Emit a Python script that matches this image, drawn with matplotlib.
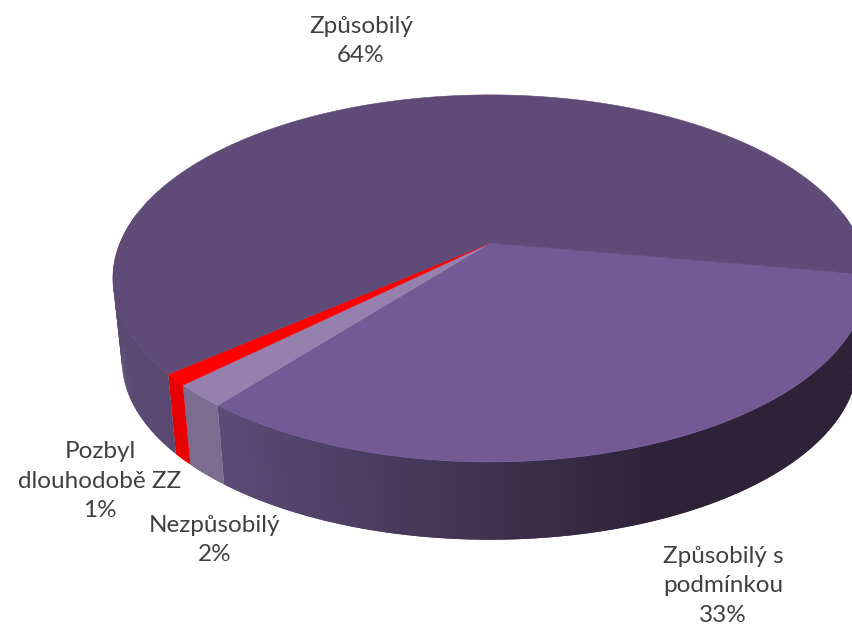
import numpy as np
import matplotlib
matplotlib.use("Agg")
import matplotlib.pyplot as plt
from matplotlib.colors import to_rgb
from matplotlib.patches import Polygon

# clockwise on screen, beginning at the right hand edge
labels = ["Způsobilý s\npodmínkou\n33%", "Nezpůsobilý\n2%", "Pozbyl\ndlouhodobě ZZ\n1%", "Způsobilý\n64%"]
values = [33, 2, 1, 64]
top_colors = ["#735a94", "#9680ad", "#ff0000", "#604a78"]
side_left = ["#5c4b76", "#7c6c90", "#e80000", "#5a4a72"]
side_right = ["#2e2238", "#7c6c90", "#e00000", "#5a4a72"]

# look of the 3d pie, in pixels
cx, cy = 490, 243
a, b, k = 370, 176.7, 0.193
drop, shrink = 83, 0.976
start = 9.9
label_xy = [(723, 586), (215, 540), (100, 481), (361, 41)]


def project(t):
    # t in degrees, clockwise on screen, perspective towards the viewer
    u = np.cos(np.radians(t))
    v = np.sin(np.radians(t))
    d = 1 / (1 - k * v)
    return cx + a * u * d, cy + b * v * d


def project_low(t):
    # same rim on the underside, a bit smaller because it is further away
    x, y = project(t)
    return cx + shrink * (x - cx), cy + drop + shrink * (y - cy)


def mix(c1, c2, f):
    c1 = np.array(to_rgb(c1))
    c2 = np.array(to_rgb(c2))
    return c1 + (c2 - c1) * f


fig = plt.figure(figsize=(8.53, 6.27), dpi=100)
ax = fig.add_axes([0, 0, 1, 1])
ax.set_xlim(0, 853)
ax.set_ylim(627, 0)
ax.axis("off")

sweeps = 360 * np.array(values) / sum(values)
edges = start + np.concatenate([[0], np.cumsum(sweeps)])

# side wall, only the part looking at us
for i in range(len(values)):
    t0 = max(edges[i], -10)
    t1 = min(edges[i + 1], 190)
    if i == 0:
        t0 = -10
    steps = np.linspace(t0, t1, int(abs(t1 - t0)) * 2 + 2)
    dt = steps[1] - steps[0]
    for s0, s1 in zip(steps[:-1], steps[1:]):
        # runs a little into the next strip so no seams show
        s2 = min(s1 + dt, t1)
        f = np.clip((project(s0)[0] - 220) / 440, 0, 1)
        col = mix(side_right[i], side_left[i], 1 - f)
        ax.add_patch(Polygon([project(s2), project(s0), project_low(s0), project_low(s2)],
                             closed=True, fc=col, ec="none", zorder=2))

# top face
for i in range(len(values)):
    ts = np.linspace(edges[i], edges[i + 1], 300)
    pts = [project(t) for t in ts]
    ax.add_patch(Polygon([(cx, cy)] + pts, closed=True, fc=top_colors[i],
                         ec=top_colors[i], lw=0.4, zorder=3))

for txt, (x, y) in zip(labels, label_xy):
    ax.text(x, y, txt, ha="center", va="center", fontsize=17.5, family="Lato",
            color="#404040", linespacing=1.5, zorder=5)

fig.savefig("out.png", dpi=100)
